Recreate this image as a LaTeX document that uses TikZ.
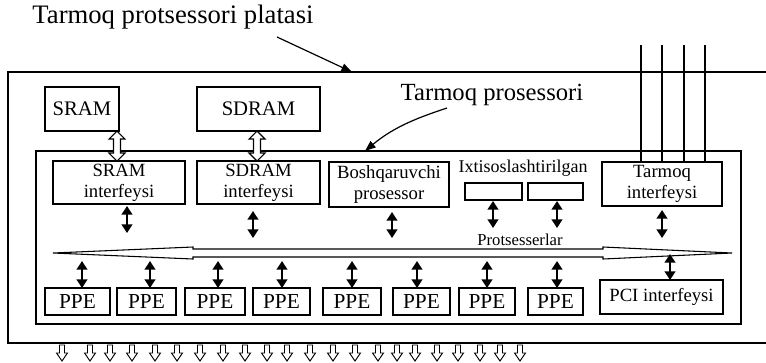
\documentclass[tikz,border=0pt]{standalone}
\usepackage{fontspec}
\setmainfont{Liberation Serif}
\usetikzlibrary{arrows.meta}
\newcommand{\blockdbl}[3]{%
  \draw[line width=0.8pt,fill=white] (#1,#2) -- (#1+8,#2+8) -- (#1+3.5,#2+8) -- (#1+3.5,#3-8) -- (#1+8,#3-8) -- (#1,#3) -- (#1-8,#3-8) -- (#1-3.5,#3-8) -- (#1-3.5,#2+8) -- (#1-8,#2+8) -- cycle;}
\begin{document}
\begin{tikzpicture}[x=0.75pt,y=-0.75pt,
  bx/.style={draw,line width=0.8pt,inner sep=0pt,align=center,font=\fontsize{14}{16}\selectfont},
  sz/.style 2 args={minimum width=#1*0.75pt,minimum height=#2*0.75pt},
  big/.style={font=\fontsize{15.5}{17}\selectfont},
  ppe/.style={bx,font=\fontsize{16}{18}\selectfont,minimum height=27*0.75pt},
  dar/.style={line width=1.6pt,{Triangle[width=8pt,length=6.5pt]}-{Triangle[width=8pt,length=6.5pt]}},
  lbl/.style={inner sep=1pt},
  pointer/.style={line width=0.9pt,-{Triangle[width=6pt,length=8pt]}}
]
\useasboundingbox (0,0) rectangle (766,362);

% board outline (open to the right)
\draw[line width=0.8pt] (766,72) -- (8,72) -- (8,343) -- (766,343);

% network processor
\node[bx,sz={705}{173}] (np) at (388.5,237.5) {};

% memories
\node[bx,big,sz={74}{44}] (sram) at (82,109) {SRAM};
\node[bx,big,sz={123}{44}] (sdram) at (258.5,109) {SDRAM};

% interfaces
\node[bx,sz={132}{43}] (srami) at (119,182.5) {SRAM\\interfeysi};
\node[bx,sz={123}{43}] (sdrami) at (258.5,182.5) {SDRAM\\interfeysi};
\node[bx,sz={120}{45}] (bosh) at (389,184.5) {Boshqaruvchi\\prosessor};
\node[lbl,font=\fontsize{13.5}{15.5}\selectfont] (ixt) at (523,168) {Ixtisoslashtirilgan};
\node[bx,sz={57}{17}] (sp1) at (493.5,191.5) {};
\node[bx,sz={55}{17}] (sp2) at (555.5,191.5) {};
\node[bx,sz={120}{44}] (tarmi) at (662,184) {Tarmoq\\interfeysi};

% PPEs
\node[ppe,minimum width=65*0.75pt] (p1) at (77.5,301.5) {PPE};
\node[ppe,minimum width=59*0.75pt] (p2) at (146.5,301.5) {PPE};
\node[ppe,minimum width=60*0.75pt] (p3) at (215,301.5) {PPE};
\node[ppe,minimum width=57*0.75pt] (p4) at (281.5,301.5) {PPE};
\node[ppe,minimum width=58*0.75pt] (p5) at (352,301.5) {PPE};
\node[ppe,minimum width=57*0.75pt] (p6) at (421.5,301.5) {PPE};
\node[ppe,minimum width=56*0.75pt] (p7) at (487,301.5) {PPE};
\node[ppe,minimum width=55*0.75pt] (p8) at (555.5,301.5) {PPE};
\node[bx,sz={123}{34}] (pci) at (661.5,297) {PCI interfeysi};

% bus
\draw[line width=0.8pt,fill=white] (53,253) -- (193,247) -- (193,249) -- (603,249) -- (603,247) -- (732,253) -- (603,259) -- (603,257) -- (193,257) -- (193,259) -- cycle;
\node[lbl,font=\fontsize{12.5}{14}\selectfont,anchor=base] (bus) at (520,245) {Protsesserlar};

% memory links
\blockdbl{117}{131}{161}
\blockdbl{257}{131}{161}

% bus taps (upper)
\draw[dar] (127,206) -- (127,233);
\draw[dar] (253,211) -- (253,238);
\draw[dar] (392,212) -- (392,238);
\draw[dar] (493,201) -- (493,228);
\draw[dar] (557,201) -- (557,228);
\draw[dar] (662,210) -- (662,238);
% bus taps (lower)
\foreach \x in {82,150,218,282,352,417,487,557}
  \draw[dar] (\x,261) -- (\x,288);
\draw[dar] (670,254) -- (670,280);

% external network lines
\foreach \x in {641,662,684,705}
  \draw[line width=0.8pt] (\x,45) -- (\x,45 |- tarmi.north);

% bottom connector arrows
\foreach \x in {62,90,110,132,155,177,200,223,245,267,287,310,333,355,378,397,415,437,458,480,500,520}
  \draw[line width=0.7pt,fill=white] (\x-2.5,345) -- (\x+2.5,345) -- (\x+2.5,353) -- (\x+5.5,353) -- (\x,361) -- (\x-5.5,353) -- (\x-2.5,353) -- cycle;

% labels
\node[lbl,font=\fontsize{20}{22}\selectfont] (title) at (173,17) {Tarmoq protsessori platasi};
\coordinate (boardtop) at (352,72);
\draw[pointer] (277,37) -- (boardtop);
\node[lbl,font=\fontsize{18.5}{20}\selectfont] (nplabel) at (492,95) {Tarmoq prosessori};
\coordinate (nptop) at (365,151);
\draw[pointer] (447,108) .. controls (420,117) and (395,126) .. (nptop);
\end{tikzpicture}
\end{document}
